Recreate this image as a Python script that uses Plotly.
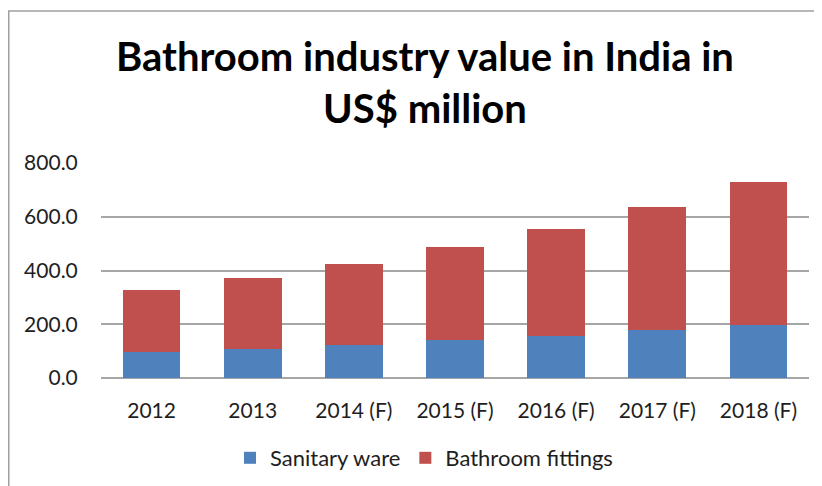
import plotly.graph_objects as go

categories = ["2012", "2013", "2014 (F)", "2015 (F)", "2016 (F)", "2017 (F)", "2018 (F)"]
sanitary_ware = [98, 108, 123, 141, 157, 177, 199]
bathroom_fittings = [229, 264, 302, 346, 399, 459, 529]
y_ticks = [0, 200, 400, 600, 800]
y_tick_labels = ["0.0", "200.0", "400.0", "600.0", "800.0"]

FONT = "Lato"
TXT = "#1e1e1e"
W, H = 822, 486
L, R, T, B = 93, 21, 155, 116

fig = go.Figure()
fig.add_trace(go.Bar(x=categories, y=sanitary_ware, name="Sanitary ware",
                     marker=dict(color="#4F81BD", line=dict(width=0))))
fig.add_trace(go.Bar(x=categories, y=bathroom_fittings, name="Bathroom fittings",
                     marker=dict(color="#C0504D", line=dict(width=0))))

plot_h = H - T - B
plot_w = W - L - R

fig.update_layout(
    width=W, height=H,
    barmode="stack", bargap=0.43,
    margin=dict(l=L, r=R, t=T, b=B, autoexpand=False),
    paper_bgcolor="white", plot_bgcolor="white",
    font=dict(family=FONT, color=TXT, size=21),
    title=dict(text="<b>Bathroom industry value in India in<br>US$ million</b>",
               x=(417 - L) / plot_w, xanchor="center", xref="paper",
               y=1 - 63 / H, yanchor="middle",
               font=dict(family=FONT, size=40, color="black")),
    showlegend=True,
    legend=dict(orientation="h", x=(416 - L) / plot_w, xanchor="center",
                y=(H - B - 450) / plot_h, yanchor="middle",
                font=dict(family=FONT, size=22, color=TXT),
                traceorder="normal", itemwidth=30, bgcolor="rgba(0,0,0,0)"),
    xaxis=dict(showgrid=False, showline=False, zeroline=False, automargin=False,
               ticks="outside", ticklen=14, tickcolor="rgba(0,0,0,0)",
               tickfont=dict(family=FONT, size=21, color=TXT)),
    yaxis=dict(range=[0, 800], tickvals=y_ticks, ticktext=y_tick_labels,
               automargin=False,
               showgrid=True, gridcolor="#A6A6A6", gridwidth=1.5,
               zeroline=True, zerolinecolor="#A6A6A6", zerolinewidth=1.5,
               showline=False,
               ticks="outside", ticklen=18, tickcolor="rgba(0,0,0,0)",
               tickfont=dict(family=FONT, size=21, color=TXT)),
)

# outer chart frame (top and left edges visible in the crop)
fig.add_shape(type="rect", xref="paper", yref="paper",
              x0=(0.75 - L) / plot_w, x1=(W + 20 - L) / plot_w,
              y0=(H - B - (H + 20)) / plot_h, y1=(H - B - 3) / plot_h,
              line=dict(color="#A0A0A0", width=1.5), fillcolor="rgba(0,0,0,0)",
              layer="below")

fig.write_html("out.html")
